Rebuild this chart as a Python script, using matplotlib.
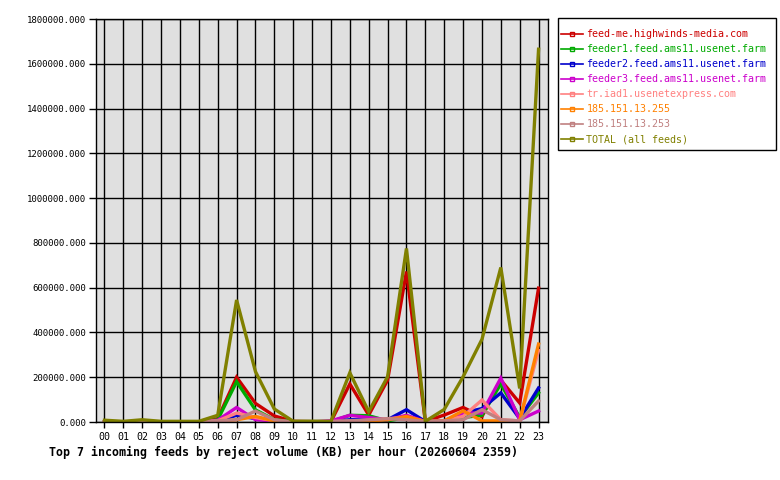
import matplotlib
matplotlib.use("Agg")
import matplotlib.pyplot as plt
from matplotlib.ticker import FuncFormatter, MultipleLocator
from matplotlib.lines import Line2D
from matplotlib.patches import Rectangle

hours = ["%02d" % h for h in range(24)]

feed_me = [0, 0, 0, 0, 0, 0, 15000, 200000, 83000, 27000, 3000, 2000, 2000, 170000, 31000, 187000, 672000, 3000, 31000, 65000, 24000, 187000, 85000, 598000]
feeder1 = [0, 0, 0, 0, 0, 0, 10000, 180000, 54000, 10000, 2000, 2000, 2000, 30000, 28000, 5000, 20000, 2000, 5000, 20000, 30000, 170000, 20000, 130000]
feeder2 = [0, 0, 0, 0, 0, 0, 5000, 30000, 15000, 5000, 0, 0, 2000, 10000, 10000, 10000, 55000, 2000, 5000, 40000, 60000, 130000, 15000, 152000]
feeder3 = [0, 0, 0, 0, 0, 0, 8000, 65000, 10000, 5000, 0, 0, 5000, 30000, 20000, 10000, 30000, 2000, 5000, 40000, 40000, 196000, 10000, 49000]
tr_iad1 = [0, 0, 0, 0, 0, 0, 5000, 40000, 20000, 5000, 0, 0, 2000, 5000, 5000, 15000, 20000, 2000, 5000, 25000, 98000, 10000, 5000, 320000]
ip_255 = [0, 0, 0, 0, 0, 0, 2000, 10000, 25000, 5000, 0, 0, 0, 2000, 5000, 10000, 25000, 2000, 5000, 50000, 5000, 5000, 5000, 348000]
ip_253 = [0, 0, 0, 0, 0, 0, 5000, 10000, 49000, 10000, 0, 0, 2000, 5000, 10000, 15000, 10000, 2000, 5000, 10000, 55000, 10000, 5000, 94000]
total = [8000, 3000, 10000, 3000, 3000, 3000, 30000, 545000, 225000, 58000, 3000, 3000, 3000, 220000, 46000, 202000, 775000, 3000, 56000, 202000, 369000, 690000, 150000, 1665000]

series = [
    ("feed-me.highwinds-media.com", feed_me, "#cc0000"),
    ("feeder1.feed.ams11.usenet.farm", feeder1, "#00aa00"),
    ("feeder2.feed.ams11.usenet.farm", feeder2, "#0000cc"),
    ("feeder3.feed.ams11.usenet.farm", feeder3, "#cc00cc"),
    ("tr.iad1.usenetexpress.com", tr_iad1, "#ff8080"),
    ("185.151.13.255", ip_255, "#ff8000"),
    ("185.151.13.253", ip_253, "#c08080"),
    ("TOTAL (all feeds)", total, "#808000"),
]

font = "DejaVu Sans Mono"
fs = 7.2
W, H = 780, 480
fig = plt.figure(figsize=(7.8, 4.8), dpi=100)
ax = fig.add_axes([96/W, 58/H, 452/W, 403/H])
ax.set_facecolor("#e0e0e0")
x = list(range(24))
for name, vals, col in series:
    ax.plot(x, vals, color=col, linewidth=2.4, solid_joinstyle="miter", label=name)

ax.set_xlim(-0.45, 23.5)
ax.set_ylim(0, 1800000)
ax.set_xticks(x)
ax.set_xticklabels(hours, fontfamily=font, fontsize=fs)
ax.yaxis.set_major_locator(MultipleLocator(200000))
ax.yaxis.set_major_formatter(FuncFormatter(lambda v, p: "%.3f" % v))
for lab in ax.get_yticklabels():
    lab.set_fontfamily(font)
    lab.set_fontsize(6.5)
ax.tick_params(axis="y", length=5, width=1, direction="out", pad=2)
ax.tick_params(axis="x", length=4, width=1, direction="out", pad=3)
ax.grid(True, color="black", linewidth=1)
ax.set_axisbelow(True)
for s in ax.spines.values():
    s.set_linewidth(1)

# legend frame drawn by hand
fig.patches.append(Rectangle((558/W, 1 - 150/H), 218/W, 132/H, transform=fig.transFigure,
                             facecolor="white", edgecolor="black", linewidth=1, zorder=1))

leg_handles = [Line2D([0], [0], color=c, linewidth=1.2, marker="s", markersize=2.5,
                      markerfacecolor="none", markeredgecolor=c) for _, _, c in series]
leg = fig.legend(leg_handles, [s[0] for s in series], loc="upper left",
                 bbox_to_anchor=(561/W, 1 - 29/H), frameon=False,
                 handlelength=2.2, handletextpad=0.35,
                 labelspacing=0.5, borderpad=0, borderaxespad=0,
                 prop={"family": font, "size": fs})
leg.set_zorder(2)
for t, (_, _, c) in zip(leg.get_texts(), series):
    t.set_color(c)

fig.text(49/W, 1 - 452/H, "Top 7 incoming feeds by reject volume (KB) per hour (20260604 2359)",
         fontfamily=font, fontsize=8.4, fontweight="bold", va="center", ha="left")

fig.savefig("out.png", dpi=100)
